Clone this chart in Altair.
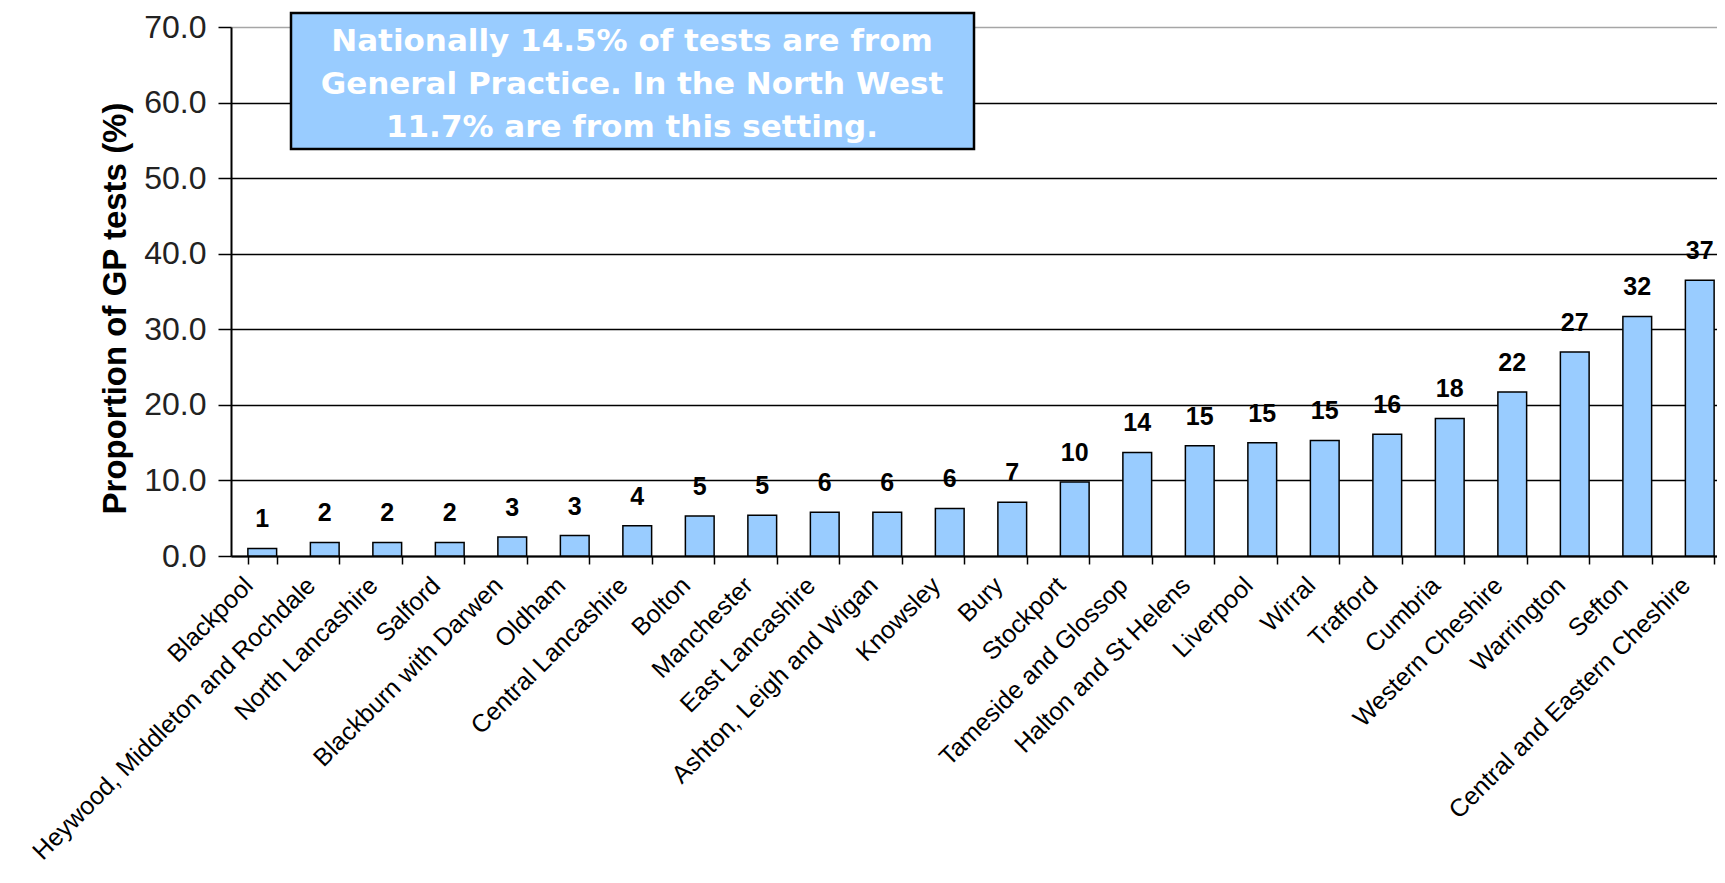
import altair as alt
import pandas as pd

areas = [
    "Blackpool", "Heywood, Middleton and Rochdale", "North Lancashire", "Salford",
    "Blackburn with Darwen", "Oldham", "Central Lancashire", "Bolton", "Manchester",
    "East Lancashire", "Ashton, Leigh and Wigan", "Knowsley", "Bury", "Stockport",
    "Tameside and Glossop", "Halton and St Helens", "Liverpool", "Wirral", "Trafford",
    "Cumbria", "Western Cheshire", "Warrington", "Sefton", "Central and Eastern Cheshire",
]
gp_pct = [
    1.0, 1.8, 1.8, 1.8, 2.5, 2.7, 4.0, 5.3, 5.4, 5.8, 5.8, 6.3, 7.1, 9.8,
    13.7, 14.6, 15.0, 15.3, 16.1, 18.2, 21.7, 27.0, 31.7, 36.5,
]
y_ticks = [0, 10, 20, 30, 40, 50, 60, 70]
annotation_lines = [
    "Nationally 14.5% of tests are from",
    "General Practice. In the North West",
    "11.7% are from this setting.",
]

df = pd.DataFrame({"area": areas, "pct": gp_pct})

W, H = 1486, 529
STEP = 62.5

x_enc = alt.X(
    "area:N", sort=areas, title=None,
    scale=alt.Scale(range=[0, STEP * len(areas)], paddingInner=0.54, paddingOuter=0.27),
    axis=alt.Axis(
        labelAngle=-45, labelAlign="right", labelBaseline="middle",
        labelFont="Liberation Sans", labelFontSize=25, labelColor="black",
        labelPadding=17, labelOffset=-14, labelLimit=700, labelOverlap=False,
        tickBand="extent", tickSize=8, tickColor="black", tickWidth=1.5,
        domainColor="black", domainWidth=2, grid=False,
    ),
)
y_enc = alt.Y(
    "pct:Q",
    scale=alt.Scale(domain=[0, 70], nice=False),
    axis=alt.Axis(
        values=y_ticks, format=".1f",
        title="Proportion of GP tests (%)",
        titleFont="Liberation Sans", titleFontSize=33, titleFontWeight="bold",
        titleColor="black", titleAngle=-90, titleAlign="center",
        titleBaseline="alphabetic", titleX=-106, titleY=281,
        labelFont="Liberation Sans", labelFontSize=32, labelColor="#222222",
        labelPadding=12,
        tickSize=13, tickColor="black", tickWidth=1.5,
        domainColor="black", domainWidth=2,
        grid=True, gridWidth=1.5,
        gridColor=alt.condition("datum.value == 70", alt.value("#a6a6a6"), alt.value("black")),
    ),
)

base = alt.Chart(df)
bars = base.mark_bar(fill="#99CCFF", stroke="black", strokeWidth=1.5).encode(x=x_enc, y=y_enc)
labels = base.mark_text(
    font="Liberation Sans", fontWeight="bold", fontSize=25, color="black",
    baseline="alphabetic", dy=-21,
).encode(x=x_enc, y=y_enc, text=alt.Text("pct:Q", format=".0f"))

one = pd.DataFrame({"k": [0]})
box = alt.Chart(one).mark_rect(fill="#99CCFF", stroke="black", strokeWidth=2.5).encode(
    x=alt.value(60), x2=alt.value(743), y=alt.value(-14), y2=alt.value(122)
)
box_text = alt.Chart(one).mark_text(
    text=annotation_lines, font="DejaVu Sans", fontWeight="bold",
    fontSize=31, color="white", align="center", baseline="alphabetic", lineHeight=43,
).encode(x=alt.value(401), y=alt.value(24))

chart = alt.layer(bars, labels, box, box_text).properties(
    width=W, height=H,
    autosize=alt.AutoSizeParams(type="none"),
    padding={"left": 223, "top": 19, "right": 0, "bottom": 318},
    background="white",
).configure_view(stroke=None)

chart.save("out.html", embed_options={"renderer": "svg", "actions": False})
